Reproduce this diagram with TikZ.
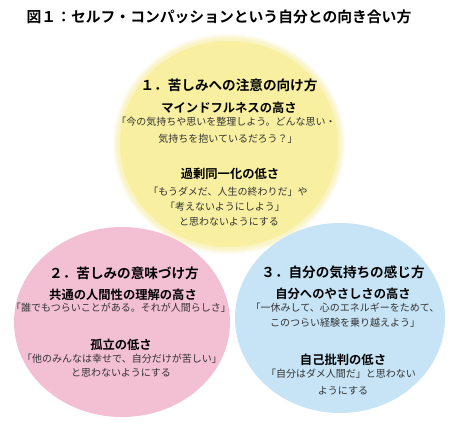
\documentclass[tikz,border=0pt]{standalone}
\usepackage{fontspec}
\newfontfamily\jp{Noto Sans CJK JP}
\newfontfamily\jpb{Noto Sans CJK JP Bold}
\definecolor{cyel}{HTML}{F8EFA0}
\definecolor{cpink}{HTML}{F3BFD3}
\definecolor{cblue}{HTML}{C6E4F6}
\definecolor{ctext}{HTML}{333333}
\tikzset{
  ttl/.style={font=\jpb\fontsize{14.8}{16}\selectfont, text=black, inner sep=0pt},
  sect/.style={font=\jpb\fontsize{13.6}{15}\selectfont, text=black, inner sep=0pt},
  head/.style={font=\jpb\fontsize{12.3}{14}\selectfont, text=black, inner sep=0pt},
  body/.style={font=\jp\fontsize{10}{12}\selectfont, text=ctext, inner sep=0pt},
}
\begin{document}
\begin{tikzpicture}[x=1pt,y=-1pt]
\useasboundingbox (0,0) rectangle (450,437);
\fill[white] (0,0) rectangle (450,437);
% yellow circle with soft edge
\foreach \r in {1,2,...,6}{
  \fill[cyel, opacity=0.14] (229,144) ellipse [x radius=110pt+\r pt, y radius=104pt+\r pt];
}
\fill[cyel] (229,144) ellipse [x radius=109pt, y radius=103pt];
\fill[cpink] (122,322) ellipse [x radius=108pt, y radius=95pt];
\fill[cblue] (340,318) ellipse [x radius=105pt, y radius=95pt];

\node[ttl] (title) at (219,17) {図１：セルフ・コンパッションという自分との向き合い方};

\node[sect] (y1) at (229,85) {１．苦しみへの注意の向け方};
\node[head] (y2) at (229,108) {マインドフルネスの高さ};
\node[body] (y3) at (226,122) {「今の気持ちや思いを整理しよう。どんな思い・};
\node[body] (y4) at (228,139) {気持ちを抱いているだろう？」};
\node[head] (y5) at (230,174) {過剰同一化の低さ};
\node[body] (y6) at (228,192) {「もうダメだ、人生の終わりだ」や};
\node[body] (y7) at (225,207) {「考えないようにしよう」};
\node[body] (y8) at (229,222) {と思わないようにする};

\node[sect] (p1) at (124,273) {２．苦しみの意味づけ方};
\node[head] (p2) at (123,295) {共通の人間性の理解の高さ};
\node[body] (p3) at (121,308) {「誰でもつらいことがある。それが人間らしさ」};
\node[head] (p4) at (121,345) {孤立の低さ};
\node[body] (p5) at (122,359) {「他のみんなは幸せで、自分だけが苦しい」};
\node[body] (p6) at (121,373) {と思わないようにする};

\node[sect] (b1) at (343,272) {３．自分の気持ちの感じ方};
\node[head] (b2) at (343,294) {自分へのやさしさの高さ};
\node[body] (b3) at (345,308) {「一休みして、心のエネルギーをためて、};
\node[body] (b4) at (345,323) {このつらい経験を乗り越えよう」};
\node[head] (b5) at (343,360) {自己批判の低さ};
\node[body] (b6) at (341,374) {「自分はダメ人間だ」と思わない};
\node[body] (b7) at (343,391) {ようにする};
\end{tikzpicture}
\end{document}
